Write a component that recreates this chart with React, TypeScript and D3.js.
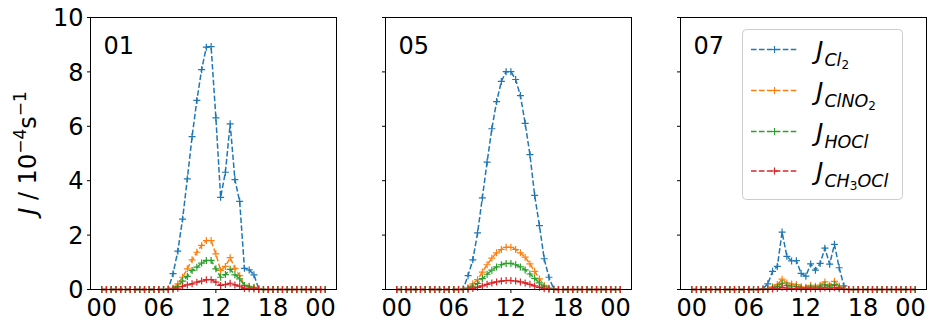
import React from "react";
import * as d3 from "d3";

// half-hourly time grid, 00:00 .. 23:30
const hours = d3.range(0, 24, 0.5);

const panelNames = ["01", "05", "07"];
const seriesNames = ["Cl2", "ClNO2", "HOCl", "CH3OCl"];
const colors = ["#1f77b4", "#ff7f0e", "#2ca02c", "#d62728"];

const xTickValues = [0, 6, 12, 18, 23];
const xTickLabels = ["00", "06", "12", "18", "00"];
const yTickValues = [0, 2, 4, 6, 8, 10];

// panel 01
const cl2_01 = [0,0,0,0,0,0,0,0,0,0,0,0,0,0, 0.02,0.58,1.41,2.59,4.07,5.62,6.95,8.08,8.91,8.93,6.31,3.39,4.31,6.09,4.04,3.24,0.78,0.72,0.54,0.02, 0,0,0,0,0,0,0,0,0,0,0,0,0,0];
const clno2_01 = [0,0,0,0,0,0,0,0,0,0,0,0,0,0, 0.01,0.05,0.21,0.45,0.76,1.09,1.37,1.62,1.8,1.8,1.31,0.7,0.85,1.17,0.78,0.51,0.15,0.12,0.08,0.02, 0,0,0,0,0,0,0,0,0,0,0,0,0,0];
const hocl_01 = [0,0,0,0,0,0,0,0,0,0,0,0,0,0, 0,0.03,0.11,0.31,0.48,0.7,0.82,0.97,1.07,1.07,0.76,0.45,0.55,0.74,0.54,0.39,0.15,0.1,0.06,0.01, 0,0,0,0,0,0,0,0,0,0,0,0,0,0];
const ch3ocl_01 = [0,0,0,0,0,0,0,0,0,0,0,0,0,0, 0,0.01,0.05,0.12,0.17,0.21,0.27,0.31,0.36,0.36,0.27,0.15,0.18,0.23,0.17,0.12,0.04,0.03,0.02,0, 0,0,0,0,0,0,0,0,0,0,0,0,0,0];

// panel 05
const cl2_05 = [0,0,0,0,0,0,0,0,0,0,0,0,0,0, 0.02,0.51,1.09,2.08,3.37,4.68,5.91,6.91,7.65,8.01,8.01,7.72,7.13,6.11,4.96,3.46,2.35,1.13,0.45,0.02, 0,0,0,0,0,0,0,0,0,0,0,0,0,0];
const clno2_05 = [0,0,0,0,0,0,0,0,0,0,0,0,0,0, 0.01,0.06,0.21,0.36,0.64,0.91,1.15,1.35,1.47,1.55,1.55,1.47,1.35,1.19,0.94,0.67,0.39,0.15,0.05,0.01, 0,0,0,0,0,0,0,0,0,0,0,0,0,0];
const hocl_05 = [0,0,0,0,0,0,0,0,0,0,0,0,0,0, 0,0.03,0.12,0.22,0.4,0.56,0.71,0.83,0.91,0.96,0.96,0.91,0.83,0.72,0.57,0.41,0.24,0.1,0.03,0, 0,0,0,0,0,0,0,0,0,0,0,0,0,0];
const ch3ocl_05 = [0,0,0,0,0,0,0,0,0,0,0,0,0,0, 0,0.01,0.04,0.08,0.13,0.19,0.24,0.28,0.31,0.33,0.33,0.31,0.28,0.24,0.19,0.13,0.08,0.03,0.01,0, 0,0,0,0,0,0,0,0,0,0,0,0,0,0];

// panel 07
const cl2_07 = [0,0,0,0,0,0,0,0,0,0,0,0,0,0, 0,0.03,0.21,0.67,0.85,2.11,1.22,1.05,1.06,0.59,0.49,0.94,0.71,0.96,1.52,0.93,1.66,0.8,0.13,0, 0,0,0,0,0,0,0,0,0,0,0,0,0,0];
const clno2_07 = [0,0,0,0,0,0,0,0,0,0,0,0,0,0, 0,0,0.03,0.1,0.18,0.38,0.24,0.2,0.18,0.1,0.08,0.15,0.12,0.16,0.28,0.16,0.3,0.13,0.02,0, 0,0,0,0,0,0,0,0,0,0,0,0,0,0];
const hocl_07 = [0,0,0,0,0,0,0,0,0,0,0,0,0,0, 0,0,0.02,0.06,0.11,0.23,0.15,0.12,0.11,0.06,0.05,0.09,0.07,0.1,0.17,0.1,0.18,0.08,0.01,0, 0,0,0,0,0,0,0,0,0,0,0,0,0,0];
const ch3ocl_07 = [0,0,0,0,0,0,0,0,0,0,0,0,0,0, 0,0,0.01,0.02,0.04,0.08,0.05,0.04,0.04,0.02,0.02,0.03,0.02,0.03,0.06,0.03,0.06,0.03,0,0, 0,0,0,0,0,0,0,0,0,0,0,0,0,0];

const panels = [
  [cl2_01, clno2_01, hocl_01, ch3ocl_01],
  [cl2_05, clno2_05, hocl_05, ch3ocl_05],
  [cl2_07, clno2_07, hocl_07, ch3ocl_07],
];

const font = "DejaVu Sans, sans-serif";
const panelLefts = [90.5, 385.5, 680.5];
const top = 17.5;
const W = 246;
const H = 272;

const x = d3.scaleLinear().domain([-1.175, 24.675]).range([0, W]);
const y = d3.scaleLinear().domain([0, 10]).range([H, 0]);

const line = d3
  .line<number>()
  .x((d, i) => x(hours[i]))
  .y((d) => y(d));

const plus = (cx: number, cy: number, r = 3.5) =>
  `M${cx - r},${cy}H${cx + r}M${cx},${cy - r}V${cy + r}`;

// legend label: J with nested subscript pieces
const LegendLabel = ({ name, lx, ly }: { name: string; lx: number; ly: number }) => {
  const parts: { t: string; sub: boolean }[] = [];
  const m = name.match(/[A-Za-z]+|\d+/g) || [];
  m.forEach((p) => parts.push({ t: p, sub: /\d/.test(p) }));
  let level = 0;
  return (
    <text x={lx} y={ly} fontFamily={font} fontStyle="italic" fontSize={25} fill="#000">
      J
      {parts.map((p, i) => {
        let dy = 0;
        if (i === 0) dy = 7;
        if (p.sub && level === 0) {
          dy = 3;
          level = 1;
        } else if (!p.sub && level === 1) {
          dy = -3;
          level = 0;
        }
        return (
          <tspan key={i} dy={dy} dx={i === 0 ? 1 : 0} fontSize={p.sub ? 12 : 17.5} fontStyle={p.sub ? "normal" : "italic"}>
            {p.t}
          </tspan>
        );
      })}
    </text>
  );
};

export default function App() {
  const legendRows = [49.5, 90.5, 131.5, 171];
  return (
    <div style={{ position: "absolute", left: 0, top: 0 }}>
      <svg width={945} height={325} style={{ display: "block", background: "#fff" }}>
        {/* y label */}
        <text
          transform="translate(36,153) rotate(-90)"
          textAnchor="middle"
          fontFamily={font}
          fontSize={24}
          fill="#000"
        >
          <tspan fontStyle="italic">J</tspan>
          <tspan> / 10</tspan>
          <tspan dy={-10} fontSize={17}>−4</tspan>
          <tspan dy={10}>s</tspan>
          <tspan dy={-10} fontSize={17}>−1</tspan>
        </text>

        {panels.map((series, p) => (
          <g key={p} transform={`translate(${panelLefts[p]},${top})`}>
            {/* y ticks */}
            {yTickValues.map((v) => (
              <g key={v}>
                <line x1={-3.5} x2={0} y1={y(v)} y2={y(v)} stroke="#000" strokeWidth={1} />
                {p === 0 && (
                  <text
                    x={-7}
                    y={y(v)}
                    dy="0.36em"
                    textAnchor="end"
                    fontFamily={font}
                    fontSize={24}
                    fill="#000"
                  >
                    {v}
                  </text>
                )}
              </g>
            ))}
            {/* x ticks */}
            {xTickValues.map((v, i) => (
              <g key={i}>
                <line x1={x(v)} x2={x(v)} y1={H} y2={H + 3.5} stroke="#000" strokeWidth={1} />
                <text
                  x={x(v)}
                  y={H + 26}
                  textAnchor="middle"
                  fontFamily={font}
                  fontSize={24}
                  fill="#000"
                >
                  {xTickLabels[i]}
                </text>
              </g>
            ))}

            {/* series */}
            {series.map((vals, s) => (
              <g key={s}>
                <path
                  d={line(vals) || ""}
                  fill="none"
                  stroke={colors[s]}
                  strokeWidth={1.5}
                  strokeDasharray="5.55 2.4"
                />
                <path
                  d={vals.map((v, i) => plus(x(hours[i]), y(v))).join("")}
                  fill="none"
                  stroke={colors[s]}
                  strokeWidth={1.2}
                />
              </g>
            ))}

            <rect x={0} y={0} width={W} height={H} fill="none" stroke="#000" strokeWidth={1} />

            <text x={13} y={36} fontFamily={font} fontSize={24} fill="#000">
              {panelNames[p]}
            </text>
          </g>
        ))}

        {/* legend */}
        <g>
          <rect
            x={742.5}
            y={29.5}
            width={160}
            height={170}
            rx={4}
            fill="#fff"
            fillOpacity={0.8}
            stroke="#ccc"
            strokeWidth={1}
          />
          {seriesNames.map((name, s) => (
            <g key={name}>
              <line
                x1={751}
                x2={798}
                y1={legendRows[s]}
                y2={legendRows[s]}
                stroke={colors[s]}
                strokeWidth={1.5}
                strokeDasharray="5.55 2.4"
              />
              <path d={plus(774.5, legendRows[s])} stroke={colors[s]} strokeWidth={1.2} />
              <LegendLabel name={name} lx={816} ly={legendRows[s] + 9} />
            </g>
          ))}
        </g>
      </svg>
    </div>
  );
}
